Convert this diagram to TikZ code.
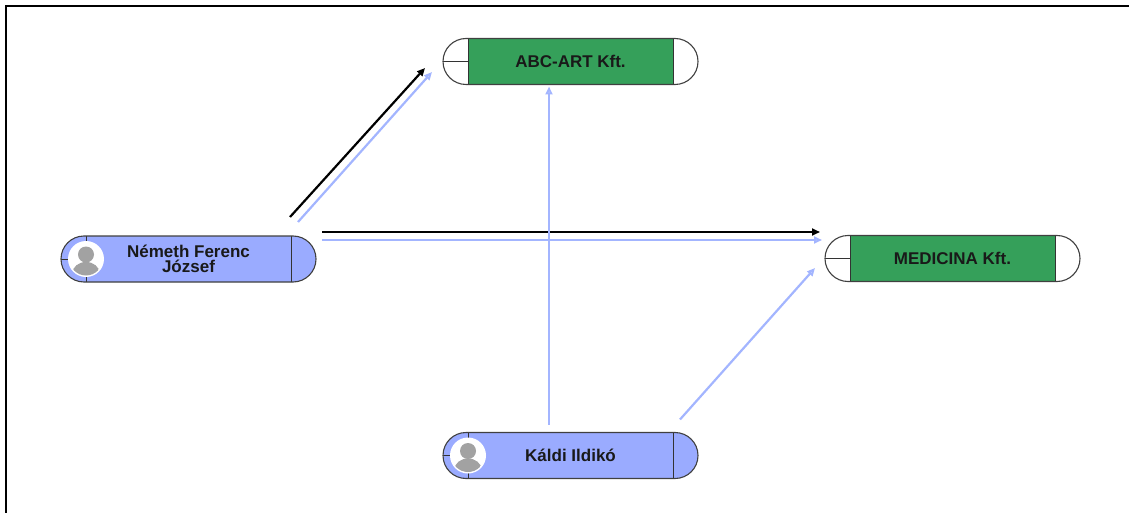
\documentclass[tikz,border=0pt]{standalone}
\usepackage{fontspec}
\setmainfont{Liberation Sans}
\usetikzlibrary{arrows.meta}
\definecolor{nblue}{HTML}{9AABFF}
\definecolor{ngreen}{HTML}{35A05A}
\definecolor{lblue}{HTML}{A3B5FF}
\definecolor{avgray}{HTML}{A2A2A2}
\tikzset{
  ent/.style={minimum width=255pt, minimum height=46pt, inner sep=0pt, outer sep=0pt},
  blk/.style={draw=black, line width=2.2pt, -{Triangle[length=8pt,width=7pt]}},
  blu/.style={draw=lblue, line width=2.2pt, -{Triangle[open,length=8pt,width=7pt]}},
  lbl/.style={font=\bfseries\fontsize{17}{15}\selectfont, align=center, text=black!90},
  sep/.style={draw=black!80, line width=0.9pt},
  outl/.style={draw=black!75, line width=1.1pt, rounded corners=23pt}
}
\newcommand\entbox[6]{%
  \node[ent] (#1) at (#2,#3) {};
  \fill[#4, rounded corners=23pt] (#1.south west) rectangle (#1.north east);
  \fill[#5] ([xshift=25pt]#1.south west) rectangle ([xshift=-25pt]#1.north east);
  \draw[sep] ([xshift=25pt]#1.south west) -- ([xshift=25pt]#1.north west);
  \draw[sep] ([xshift=-25pt]#1.south east) -- ([xshift=-25pt]#1.north east);
  \draw[sep] (#1.west) -- ([xshift=25pt]#1.west);
  \draw[outl] (#1.south west) rectangle (#1.north east);
  \node[lbl] at (#1) {#6};
}
\newcommand\avatarpic[1]{%
  \fill[white] ([xshift=25pt]#1.west) circle (18pt);
  \begin{scope}
    \clip ([xshift=25pt]#1.west) circle (16.5pt);
    \fill[avgray] ([xshift=25pt,yshift=4.5pt]#1.west) circle (8pt);
    \fill[avgray] ([xshift=25pt,yshift=-14pt]#1.west) ellipse (13.5pt and 11pt);
  \end{scope}
}
\begin{document}
\begin{tikzpicture}[x=1pt,y=-1pt]
  \useasboundingbox (0,0) rectangle (1129,513);
  \draw[line width=2.5pt, line cap=rect] (6,513) -- (6,6) -- (1129,6);

  \entbox{nem}{188.5}{259}{nblue}{nblue}{Németh Ferenc\\József}
  \avatarpic{nem}
  \entbox{abc}{570.5}{61.5}{white}{ngreen}{ABC-ART Kft.}
  \entbox{med}{952.5}{258.5}{white}{ngreen}{MEDICINA Kft.}
  \entbox{kal}{570.5}{455.5}{nblue}{nblue}{Káldi Ildikó}
  \avatarpic{kal}

  % Nemeth -> ABC-ART
  \draw[blk] ([xshift=-26pt,yshift=19pt]nem.north east) -- ([xshift=-18pt,yshift=-6.5pt]abc.west);
  \draw[blu] ([xshift=-18pt,yshift=14pt]nem.north east) -- ([xshift=-11pt,yshift=-10.5pt]abc.west);
  % Nemeth -> MEDICINA
  \draw[blk] ([xshift=6pt,yshift=4pt]nem.north east) -- ([xshift=-5pt,yshift=26.5pt]med.west);
  \draw[blu] ([xshift=6pt,yshift=-4pt]nem.north east) -- ([xshift=-3pt,yshift=18.5pt]med.west);
  % Kaldi -> ABC-ART
  \draw[blu] ([xshift=-21.5pt,yshift=8pt]kal.north) -- ([xshift=-21.5pt,yshift=-2pt]abc.south);
  % Kaldi -> MEDICINA
  \draw[blu] ([xshift=-18pt,yshift=13pt]kal.north east) -- ([xshift=-10pt,yshift=-9.5pt]med.west);
\end{tikzpicture}
\end{document}
